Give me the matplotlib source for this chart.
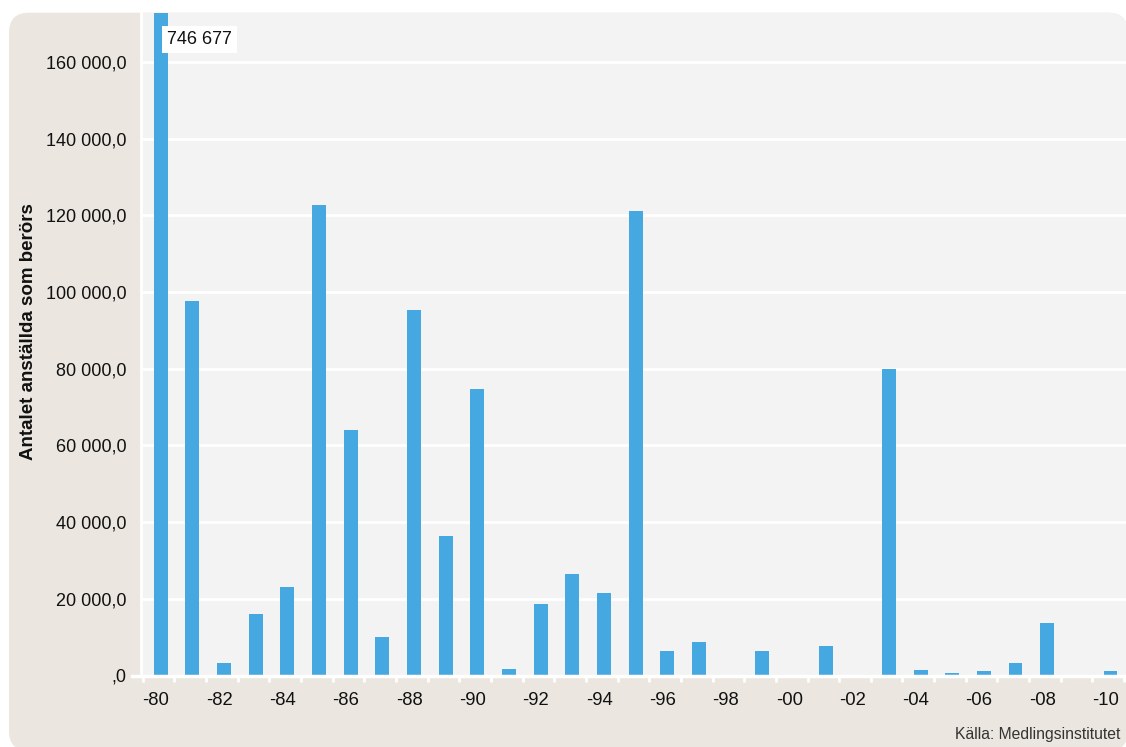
import matplotlib
matplotlib.use("Agg")
import matplotlib.pyplot as plt
from matplotlib.patches import FancyBboxPatch
from matplotlib.ticker import FuncFormatter, FixedLocator
from matplotlib.transforms import IdentityTransform, blended_transform_factory

plt.rcParams['font.family'] = ['Liberation Sans', 'DejaVu Sans']

# --- Data ---
years = list(range(1980, 2011))
employees = [
    746677, 97750, 3260, 16030, 23070, 122700, 63880, 10040, 95400, 36360,
    74800, 1600, 18610, 26420, 21470, 121130, 6500, 8700, 0, 6300,
    0, 7690, 0, 80000, 1430, 650, 1170, 3260, 13690, 0,
    1170,
]
tick_labels = ["-80", "-82", "-84", "-86", "-88", "-90", "-92", "-94",
               "-96", "-98", "-00", "-02", "-04", "-06", "-08", "-10"]
y_ticks = [0, 20000, 40000, 60000, 80000, 100000, 120000, 140000, 160000]
top_label = "746 677"
y_label = "Antalet anställda som berörs"
source = "Källa: Medlingsinstitutet"

W, H = 1126, 747
fig = plt.figure(figsize=(W / 100, H / 100), dpi=100)
fig.patch.set_facecolor("white")

# rounded beige panel (pixel coordinates)
panel = FancyBboxPatch((9, -4), 1119, H - 12.7 + 4,
                       boxstyle="round,pad=0,rounding_size=20",
                       transform=IdentityTransform(),
                       facecolor="#ebe7e0", edgecolor="none", zorder=-10)
fig.patches.append(panel)

ax = fig.add_axes([141.5 / W, (H - 675.5) / H, (W - 141.5) / W, (675.5 - 12.7) / H])
ax.set_zorder(1)
ax.set_facecolor("#f3f3f3")
ax.patch.set_clip_path(panel)

x = list(range(len(years)))
ax.bar([i + 0.07 for i in x], employees, width=0.44, color="#45a8e0", zorder=3)

ax.set_xlim(-0.538, 30.56)
ax.set_ylim(0, 172800)

# gridlines
ax.yaxis.set_major_locator(FixedLocator(y_ticks))
ax.grid(axis="y", color="white", linewidth=2, zorder=1)
ax.grid(axis="x", visible=False)

def fmt(v, pos):
    if v == 0:
        return ",0"
    return "{:,.0f}".format(v).replace(",", " ") + ",0"

ax.yaxis.set_major_formatter(FuncFormatter(fmt))
ax.tick_params(axis="y", length=0, pad=11, labelsize=13, labelcolor="#111111")

# x labels every second year, white ticks at category borders
ax.set_xticks([i - 0.08 for i in x[::2]])
ax.set_xticklabels(tick_labels)
ax.set_xticks([i - 0.5 for i in range(len(years) + 1)], minor=True)
ax.tick_params(axis="x", which="major", length=0, pad=12, labelsize=13.3, labelcolor="#111111")
ax.tick_params(axis="x", which="minor", length=4, width=2, color="white")

for s in ["top", "right"]:
    ax.spines[s].set_visible(False)
ax.spines["left"].set_color("white")
ax.spines["left"].set_linewidth(2)
ax.spines["bottom"].set_color("white")
ax.spines["bottom"].set_linewidth(2.5)
ax.spines["bottom"].set_zorder(4)

# small extension of the zero line to the left
tr = blended_transform_factory(ax.transAxes, ax.transData)
ax.plot([-9.5 / (W - 141.5), 0], [0, 0], color="white", linewidth=2.5,
        transform=tr, clip_on=False, zorder=4)

# value label for the clipped first bar
ax.text(0.27, 165900, top_label, fontsize=13, color="#111111",
        ha="left", va="center", zorder=5,
        bbox=dict(boxstyle="square,pad=0.28", facecolor="white", edgecolor="none"))

fig.text(29 / W, 1 - 332 / H, y_label, rotation=90, fontsize=13.5,
         fontweight="bold", ha="center", va="center", color="#111111")
fig.text(1120 / W, 1 - 735 / H, source, fontsize=11.3, ha="right", va="center",
         color="#333333")

fig.savefig("out.png", dpi=100, facecolor=fig.get_facecolor())
